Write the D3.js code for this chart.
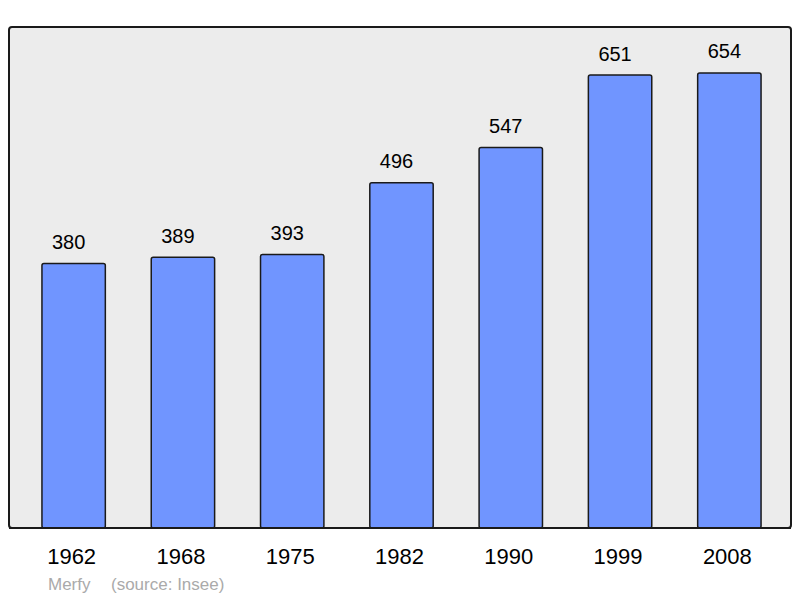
<!doctype html>
<html lang="en">
<head>
<meta charset="UTF-8">
<title>Population</title>
<script src="https://d3js.org/d3.v7.min.js"></script>
<style>
  body { margin: 0; background: #fff; }
  text { font-family: "Liberation Sans", Arial, sans-serif; }
</style>
</head>
<body>
<div id="chart-area"></div>
<script>
const years = ['1962', '1968', '1975', '1982', '1990', '1999', '2008'];
const population = [380, 389, 393, 496, 547, 651, 654];

const W = 800, H = 598;
const frame = { left: 9, top: 27, right: 791, bottom: 528 };

const svg = d3.select('#chart-area')
    .append('svg')
    .attr('width', W)
    .attr('height', H);

svg.append('rect')
    .attr('x', frame.left)
    .attr('y', frame.top)
    .attr('width', frame.right - frame.left)
    .attr('height', frame.bottom - frame.top)
    .attr('rx', 3)
    .attr('fill', '#ececec')
    .attr('stroke', '#1a1a1a')
    .attr('stroke-width', 2);

const x = d3.scaleBand()
    .domain(years)
    .range([19, 784])
    .paddingInner(0.42)
    .paddingOuter(0.21);

const y = d3.scaleLinear()
    .domain([0, 720])
    .range([frame.bottom, frame.top]);

const data = years.map((yr, i) => ({ yr, v: population[i] }));

svg.selectAll('rect.bar')
    .data(data)
    .enter()
    .append('rect')
    .attr('class', 'bar')
    .attr('x', d => x(d.yr))
    .attr('y', d => y(d.v))
    .attr('width', x.bandwidth())
    .attr('height', d => frame.bottom - y(d.v))
    .attr('rx', 2)
    .attr('fill', '#7095ff')
    .attr('stroke', '#1a1a1a')
    .attr('stroke-width', 1.5);

svg.selectAll('text.val')
    .data(data)
    .enter()
    .append('text')
    .attr('class', 'val')
    .attr('x', d => x(d.yr) + x.bandwidth() / 2 - 5)
    .attr('y', d => y(d.v) - 14.5)
    .attr('text-anchor', 'middle')
    .attr('font-size', 20)
    .attr('fill', '#000')
    .text(d => d.v);

// frame bottom again, on top of the bars
svg.append('line')
    .attr('x1', frame.left).attr('x2', frame.right)
    .attr('y1', frame.bottom).attr('y2', frame.bottom)
    .attr('stroke', '#1a1a1a')
    .attr('stroke-width', 2);

svg.selectAll('text.year')
    .data(years)
    .enter()
    .append('text')
    .attr('class', 'year')
    .attr('x', d => x(d) + x.bandwidth() / 2 - 2)
    .attr('y', 564)
    .attr('text-anchor', 'middle')
    .attr('font-size', 22)
    .attr('fill', '#000')
    .text(d => d);

svg.append('text')
    .attr('x', 48)
    .attr('y', 590)
    .attr('font-size', 17)
    .attr('fill', '#aaa')
    .text('Merfy');

svg.append('text')
    .attr('x', 111)
    .attr('y', 590)
    .attr('font-size', 17)
    .attr('fill', '#aaa')
    .text('(source: Insee)');
</script>
</body>
</html>
